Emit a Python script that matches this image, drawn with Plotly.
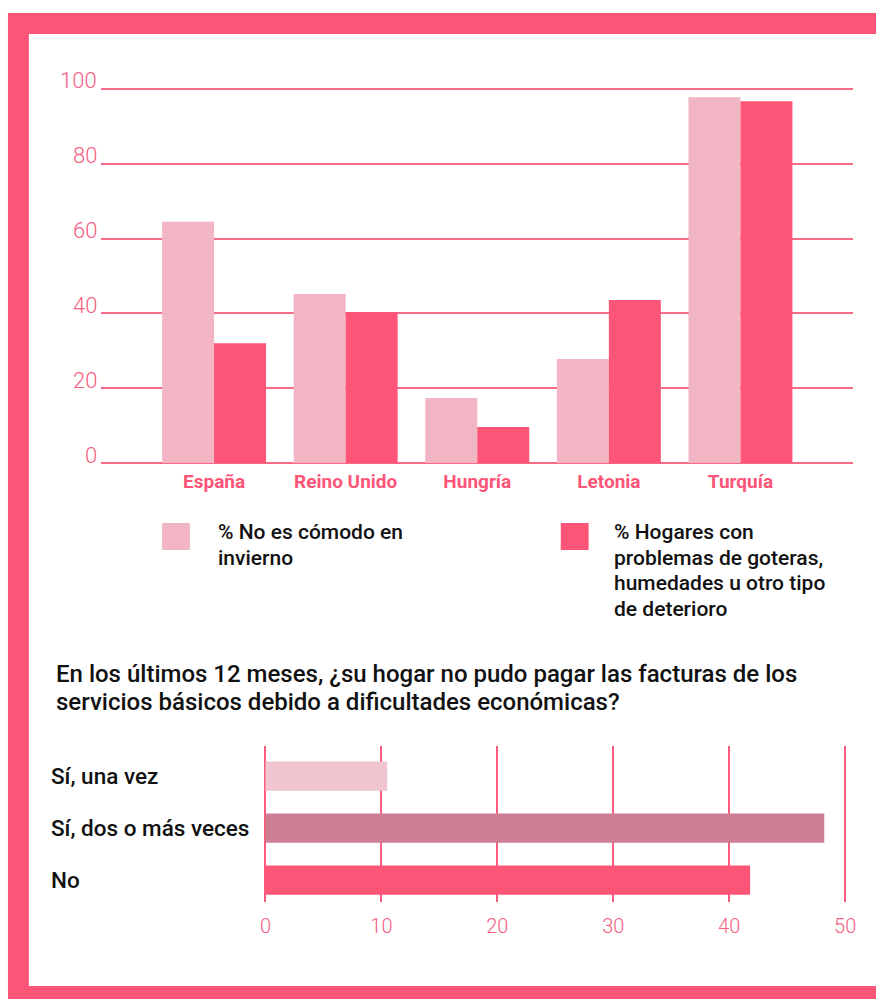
import plotly.graph_objects as go

W, H = 876, 999

# ---------------- data ----------------
countries = ["España", "Reino Unido", "Hungría", "Letonia", "Turquía"]
no_comodo = [64.5, 45.2, 17.4, 27.8, 97.8]
goteras = [32.0, 40.4, 9.6, 43.6, 96.7]
series_lines = [["% No es cómodo en", "invierno"],
                ["% Hogares con", "problemas de goteras,",
                 "humedades u otro tipo", "de deterioro"]]

answers = ["Sí, una vez", "Sí, dos o más veces", "No"]
answer_values = [10.5, 48.2, 41.8]

bar_y_ticks = [0, 20, 40, 60, 80, 100]
bar_x_ticks = [0, 10, 20, 30, 40, 50]

question_lines = ["En los últimos 12 meses, ¿su hogar no pudo pagar las facturas de los",
                  "servicios básicos debido a dificultades económicas?"]

# ---------------- style ----------------
PINK = "#fd5577"
LIGHT = "#f1b5c4"
ANS_COLORS = ["#efc6d0", "#cd7e93", "#fd5577"]
GRID = "#f96a87"
GRID2 = "#fb5a7c"
TICK = "#f4607f"
FONT = "Roboto"
TXT = "#111111"


def px_x(p):
    return p / W


def px_y(p):
    return 1 - p / H


fig = go.Figure()

fig.add_trace(go.Bar(x=countries, y=no_comodo, marker_color=LIGHT,
                     marker_line_width=0, xaxis="x", yaxis="y", showlegend=False))
fig.add_trace(go.Bar(x=countries, y=goteras, marker_color=PINK,
                     marker_line_width=0, xaxis="x", yaxis="y", showlegend=False))

fig.add_trace(go.Bar(y=answers, x=answer_values, orientation="h",
                     marker_color=ANS_COLORS, marker_line_width=0,
                     xaxis="x2", yaxis="y2", showlegend=False, width=0.56))

# top chart geometry (pixels)
top_y0, top_y100 = 463, 89
ppu = (top_y0 - top_y100) / 100
yr = [-1, 101]
ydom = [px_y(top_y0 + ppu * 1), px_y(top_y100 - ppu * 1)]

# bottom chart geometry
bx0, bx50 = 267, 850
ppx = (bx50 - bx0) / 50
xr2 = [-0.5, 50.5]
xdom2 = [px_x(bx0 - 0.5 * ppx), px_x(bx50 + 0.5 * ppx)]

fig.update_layout(
    width=W, height=H,
    margin=dict(l=0, r=0, t=0, b=0),
    paper_bgcolor="white",
    plot_bgcolor="rgba(0,0,0,0)",
    barmode="group",
    bargap=0.21,
    bargroupgap=0,
    font=dict(family=FONT, color=TXT),
    xaxis=dict(domain=[px_x(102), px_x(858)], range=[-0.856, 4.856],
               showgrid=False, zeroline=False, showline=False, ticks="",
               tickfont=dict(family=FONT, size=19, color=PINK, weight="bold"),
               ticklabelstandoff=1, fixedrange=True),
    yaxis=dict(domain=ydom, range=yr, tickvals=bar_y_ticks,
               showgrid=True, gridcolor=GRID, gridwidth=1.8, zeroline=False,
               showline=False, ticks="", showticklabels=False),
    xaxis2=dict(domain=xdom2, range=xr2, tickvals=bar_x_ticks, anchor="y2",
                showgrid=True, gridcolor=GRID2, gridwidth=1.5, zeroline=False,
                showline=False, ticks="",
                tickfont=dict(family=FONT, size=20, color=TICK, weight=300),
                ticklabelstandoff=10),
    yaxis2=dict(domain=[px_y(902), px_y(746)], range=[2.42, -0.58], anchor="x2",
                showgrid=False, zeroline=False, showticklabels=False, ticks=""),
)

shapes = [
    dict(type="rect", xref="paper", yref="paper", x0=px_x(8), x1=1.02,
         y0=-0.02, y1=px_y(13), fillcolor=PINK, line_width=0, layer="below"),
    dict(type="rect", xref="paper", yref="paper", x0=px_x(29), x1=1.02,
         y0=px_y(986), y1=px_y(34), fillcolor="white", line_width=0, layer="below"),
    # legend swatches
    dict(type="rect", xref="paper", yref="paper", x0=px_x(163), x1=px_x(191),
         y0=px_y(550), y1=px_y(523), fillcolor=LIGHT, line_width=0),
    dict(type="rect", xref="paper", yref="paper", x0=px_x(564), x1=px_x(592),
         y0=px_y(550), y1=px_y(523), fillcolor=PINK, line_width=0),
]
fig.update_layout(shapes=shapes)

annotations = []
legend_x = [217, 616]
for lines, lx in zip(series_lines, legend_x):
    for i, line in enumerate(lines):
        annotations.append(dict(text=line, x=px_x(lx), y=px_y(532 + 25.5 * i),
                                xref="paper", yref="paper", xanchor="left",
                                yanchor="middle", showarrow=False,
                                font=dict(family=FONT, size=21, color=TXT, weight=500)))
for i, line in enumerate(question_lines):
    annotations.append(dict(text=line, x=px_x(54), y=px_y(674 + 28 * i),
                            xref="paper", yref="paper", xanchor="left",
                            yanchor="middle", showarrow=False,
                            font=dict(family=FONT, size=24, color=TXT, weight=500)))
for t in bar_y_ticks:
    annotations.append(dict(text=str(t), x=px_x(100), y=t, xref="paper", yref="y",
                            xanchor="right", yanchor="middle", yshift=8, showarrow=False,
                            font=dict(family=FONT, size=22, color=TICK, weight=300)))
for a in answers:
    annotations.append(dict(text=a, x=px_x(49), y=a, xref="paper", yref="y2",
                            xanchor="left", yanchor="middle", showarrow=False,
                            font=dict(family=FONT, size=22.5, color=TXT, weight=500)))
fig.update_layout(annotations=annotations)

fig.write_html("out.html")
